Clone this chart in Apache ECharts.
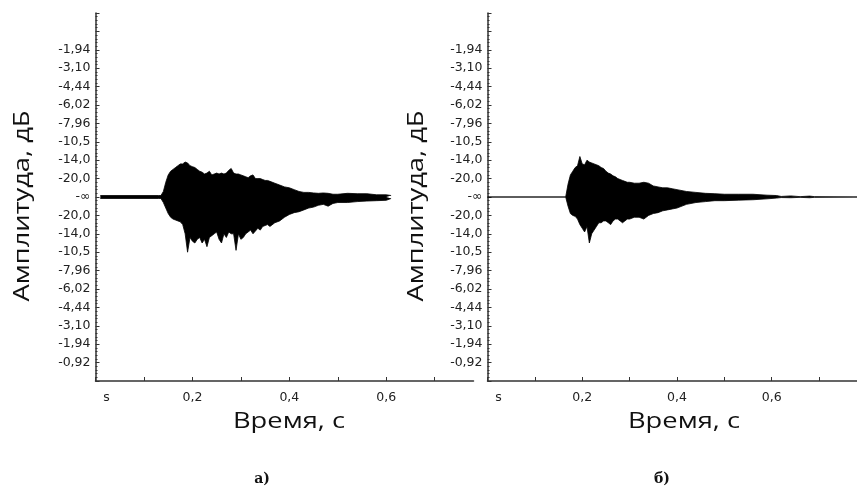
<!DOCTYPE html>
<html>
<head>
<meta charset="utf-8">
<script src="https://cdn.jsdelivr.net/npm/echarts@6/dist/echarts.min.js"></script>
<style>html,body{margin:0;padding:0;background:#fff}#c{width:857px;height:488px}</style>
</head>
<body>
<div id="c"></div>
<script>
// ---- Data (normalized amplitude envelope) ----
const leftTime  = [0.01,0.13,0.135,0.14,0.145,0.15,0.155,0.16,0.165,0.17,0.175,0.18,0.185,0.19,0.195,0.2,0.205,0.21,0.215,0.22,0.225,0.23,0.235,0.24,0.245,0.25,0.255,0.26,0.265,0.27,0.275,0.28,0.285,0.29,0.295,0.3,0.305,0.31,0.315,0.32,0.325,0.33,0.335,0.34,0.345,0.35,0.355,0.36,0.37,0.38,0.39,0.4,0.41,0.42,0.43,0.44,0.45,0.46,0.47,0.48,0.49,0.5,0.52,0.54,0.56,0.58,0.6,0.61];
const leftUpper = [0.008,0.008,0.008,0.03,0.08,0.12,0.14,0.15,0.16,0.17,0.18,0.18,0.19,0.185,0.17,0.165,0.16,0.15,0.14,0.135,0.125,0.13,0.14,0.12,0.125,0.13,0.125,0.13,0.125,0.13,0.145,0.155,0.13,0.125,0.125,0.12,0.115,0.11,0.105,0.115,0.12,0.1,0.1,0.1,0.095,0.09,0.09,0.085,0.075,0.065,0.055,0.05,0.04,0.03,0.025,0.025,0.022,0.02,0.022,0.02,0.015,0.015,0.02,0.018,0.018,0.012,0.012,0.008];
const leftLower = [-0.008,-0.008,-0.008,-0.03,-0.06,-0.09,-0.11,-0.12,-0.125,-0.13,-0.135,-0.15,-0.2,-0.3,-0.22,-0.24,-0.25,-0.23,-0.22,-0.25,-0.23,-0.27,-0.22,-0.21,-0.2,-0.19,-0.23,-0.25,-0.2,-0.22,-0.19,-0.2,-0.2,-0.29,-0.2,-0.23,-0.22,-0.2,-0.19,-0.18,-0.2,-0.185,-0.17,-0.18,-0.16,-0.155,-0.15,-0.16,-0.14,-0.13,-0.11,-0.095,-0.085,-0.08,-0.07,-0.06,-0.055,-0.045,-0.04,-0.05,-0.035,-0.03,-0.03,-0.025,-0.022,-0.02,-0.018,-0.008];

const rightTime  = [0,0.165,0.17,0.175,0.18,0.185,0.19,0.195,0.2,0.205,0.21,0.215,0.22,0.225,0.23,0.235,0.24,0.245,0.25,0.255,0.26,0.265,0.27,0.275,0.28,0.285,0.29,0.295,0.3,0.31,0.32,0.33,0.34,0.35,0.36,0.37,0.38,0.39,0.4,0.42,0.44,0.46,0.48,0.5,0.53,0.56,0.59,0.61,0.62,0.64,0.66,0.68,0.69,0.78];
const rightUpper = [0,0,0.07,0.12,0.14,0.16,0.17,0.22,0.18,0.175,0.2,0.19,0.185,0.18,0.175,0.17,0.16,0.155,0.14,0.13,0.125,0.115,0.11,0.1,0.095,0.09,0.085,0.08,0.08,0.075,0.075,0.08,0.075,0.06,0.055,0.05,0.05,0.045,0.04,0.03,0.025,0.02,0.018,0.015,0.015,0.015,0.01,0.008,0.003,0.006,0.002,0.005,0.002,0];
const rightLower = [0,0,-0.05,-0.09,-0.1,-0.105,-0.12,-0.15,-0.17,-0.19,-0.16,-0.25,-0.2,-0.18,-0.16,-0.14,-0.14,-0.13,-0.13,-0.14,-0.15,-0.13,-0.12,-0.12,-0.13,-0.14,-0.13,-0.12,-0.12,-0.11,-0.11,-0.12,-0.1,-0.09,-0.085,-0.075,-0.07,-0.065,-0.06,-0.04,-0.03,-0.025,-0.02,-0.02,-0.017,-0.015,-0.01,-0.006,-0.003,-0.004,-0.002,-0.004,-0.002,0];

// tick labels: y from -1 to 1 step 0.1 (bottom to top), x from 0 step 0.1
const yTickLabels = ['', '-0,92', '-1,94', '-3,10', '-4,44', '-6,02', '-7,96', '-10,5', '-14,0', '-20,0', '-∞',
                     '-20,0', '-14,0', '-10,5', '-7,96', '-6,02', '-4,44', '-3,10', '-1,94', '', ''];
const xTickLabels = ['s', '', '0,2', '', '0,4', '', '0,6', '', ''];
const xTitle = 'Время, с';
const yTitle = 'Амплитуда, дБ';
const captions = ['а)', 'б)'];

function zip(t, v) { return t.map((x, i) => [x, v[i]]); }

const axisColor = '#333';
const labelFont = { color: '#222', fontFamily: 'DejaVu Sans', fontSize: 12.5 };
function makeX(idx) {
  return {
    type: 'value', gridIndex: idx, min: 0, max: 0.78, interval: 0.1,
    axisLine: { show: true, onZero: false, lineStyle: { color: axisColor, width: 1.5 } },
    axisTick: { show: true, inside: true, length: 4, lineStyle: { color: axisColor } },
    splitLine: { show: false },
    axisLabel: Object.assign({
      margin: 10, showMaxLabel: false,
      formatter: v => {
        const s = xTickLabels[Math.round(v * 10)] || '';
        return s === 's' ? '{s|s}' : s;
      },
      rich: { s: Object.assign({ padding: [0, 0, 0, 22] }, labelFont) }
    }, labelFont)
  };
}
function makeY(idx) {
  return {
    type: 'value', gridIndex: idx, min: -1, max: 1, interval: 0.1,
    axisLine: { show: true, lineStyle: { color: axisColor, width: 1.5 } },
    axisTick: { show: true, inside: true, length: 4, lineStyle: { color: axisColor } },
    minorTick: { show: true, splitNumber: 5, length: 2, lineStyle: { color: axisColor } },
    splitLine: { show: false },
    axisLabel: Object.assign({
      margin: 5,
      formatter: v => yTickLabels[Math.round((v + 1) * 10)] || ''
    }, labelFont)
  };
}
function areaSeries(idx, data) {
  return {
    type: 'line', xAxisIndex: idx, yAxisIndex: idx, data: data,
    showSymbol: false, symbol: 'none', silent: true,
    lineStyle: { color: '#000', width: 0.8 },
    areaStyle: { color: '#000', opacity: 1 }
  };
}

const chart = echarts.init(document.getElementById('c'), null, { renderer: 'canvas' });
const titleStyle = { fill: '#111', font: '21px "Open Sans"' };
chart.setOption({
  animation: false,
  backgroundColor: '#fff',
  grid: [
    { left: 95.5, top: 13, width: 378, height: 368 },
    { left: 487.5, top: 13, width: 378, height: 368 }
  ],
  xAxis: [makeX(0), makeX(1)],
  yAxis: [makeY(0), makeY(1)],
  series: [
    areaSeries(0, zip(leftTime, leftUpper)),
    areaSeries(0, zip(leftTime, leftLower)),
    areaSeries(1, zip(rightTime, rightUpper)),
    areaSeries(1, zip(rightTime, rightLower))
  ],
  graphic: [
    { type: 'text', x: 289, y: 422, scaleX: 1.3, style: Object.assign({ text: xTitle, align: 'center', verticalAlign: 'middle' }, titleStyle) },
    { type: 'text', x: 684, y: 422, scaleX: 1.3, style: Object.assign({ text: xTitle, align: 'center', verticalAlign: 'middle' }, titleStyle) },
    { type: 'text', x: 23, y: 206, rotation: Math.PI / 2, scaleX: 1.3, style: Object.assign({ text: yTitle, align: 'center', verticalAlign: 'middle' }, titleStyle) },
    { type: 'text', x: 417, y: 206, rotation: Math.PI / 2, scaleX: 1.3, style: Object.assign({ text: yTitle, align: 'center', verticalAlign: 'middle' }, titleStyle) },
    { type: 'text', x: 262, y: 479, style: { text: captions[0], align: 'center', verticalAlign: 'middle', fill: '#111', font: 'bold 14px "DejaVu Serif"' } },
    { type: 'text', x: 662, y: 479, style: { text: captions[1], align: 'center', verticalAlign: 'middle', fill: '#111', font: 'bold 14px "DejaVu Serif"' } }
  ]
});
</script>
</body>
</html>
